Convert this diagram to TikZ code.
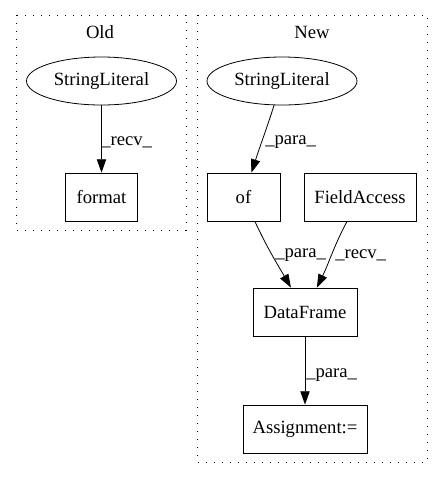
\documentclass[tikz,border=0pt]{standalone}
\usepackage{fontspec}
\setmainfont{Liberation Serif}
\usetikzlibrary{arrows.meta,shapes.geometric}
\begin{document}
\begin{tikzpicture}[x=0.75pt,y=-0.75pt,
  font=\fontsize{14}{16}\selectfont,
  cluster/.style={draw, line width=0.7pt, dash pattern=on 1pt off 5pt},
  ell/.style={draw, line width=0.6pt, ellipse, minimum width=112.5pt, minimum height=36pt, inner sep=0pt},
  box/.style={draw, line width=0.6pt, rectangle, minimum height=36pt, inner sep=0pt},
  edge/.style={draw, line width=0.6pt, -{Triangle[length=10pt,width=7pt]}},
  lbl/.style={inner sep=0pt, anchor=west}]
\useasboundingbox (0,0) rectangle (443,480);
\draw[cluster] (16,15) rectangle (186,230);
\draw[cluster] (197,15) rectangle (427,462);
\node (told) at (100,32) {Old};
\node (tnew) at (312,32) {New};
\node[ell] (sl1) at (101.5,81) {StringLiteral};
\node[box, minimum width=54pt] (fmt) at (101.5,197) {format};
\node[ell] (sl2) at (282,81) {StringLiteral};
\node[box, minimum width=54.75pt] (of) at (243.5,197) {of};
\node[box, minimum width=84pt] (fa) at (360,197) {FieldAccess};
\node[box, minimum width=78pt] (df) at (305,312) {DataFrame};
\node[box, minimum width=93pt] (as) at (305,429) {Assignment:=};
\draw[edge] (sl1) -- (fmt);
\draw[edge] (sl2) to[out=-108,in=72] (of);
\draw[edge] (of) to[out=-65,in=120] (df);
\draw[edge] (fa) to[out=-118,in=64] (df);
\draw[edge] (df) -- (as);
\node[lbl] (l1) at (101,142) {\_recv\_};
\node[lbl] (l2) at (265,142) {\_para\_};
\node[lbl] (l3) at (275,255) {\_para\_};
\node[lbl] (l4) at (335,255) {\_recv\_};
\node[lbl] (l5) at (306,375) {\_para\_};
\end{tikzpicture}
\end{document}
